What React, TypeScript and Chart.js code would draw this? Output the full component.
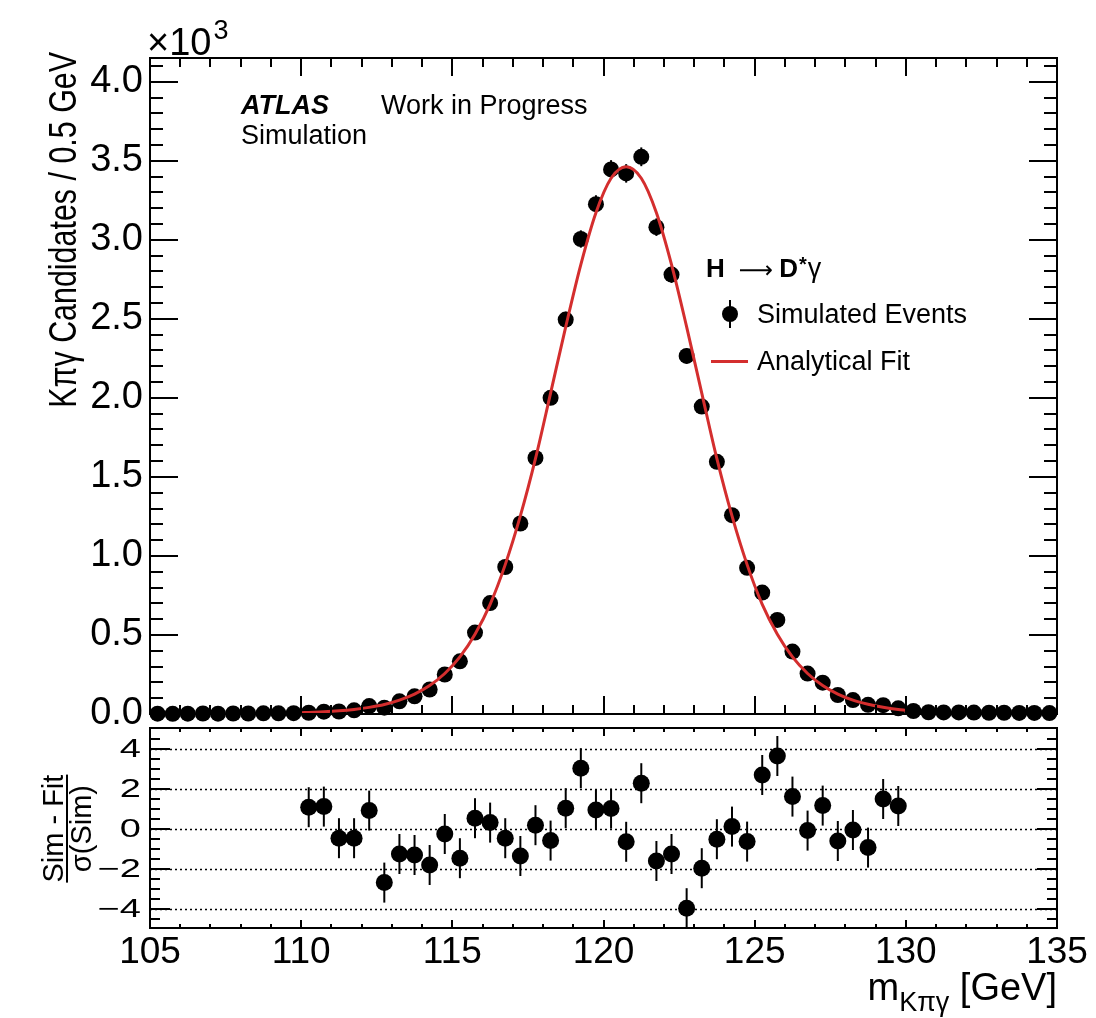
import React, { useEffect, useRef } from 'react';
import { Chart, registerables } from 'chart.js';

Chart.register(...registerables);

// ---------------- data ----------------
const binCenters = [
  105.25, 105.75, 106.25, 106.75, 107.25, 107.75, 108.25, 108.75, 109.25, 109.75,
  110.25, 110.75, 111.25, 111.75, 112.25, 112.75, 113.25, 113.75, 114.25, 114.75,
  115.25, 115.75, 116.25, 116.75, 117.25, 117.75, 118.25, 118.75, 119.25, 119.75,
  120.25, 120.75, 121.25, 121.75, 122.25, 122.75, 123.25, 123.75, 124.25, 124.75,
  125.25, 125.75, 126.25, 126.75, 127.25, 127.75, 128.25, 128.75, 129.25, 129.75,
  130.25, 130.75, 131.25, 131.75, 132.25, 132.75, 133.25, 133.75, 134.25, 134.75,
];

// simulated events (x10^3 candidates / 0.5 GeV)
const simValues = [
  0.002, 0.001, 0.002, 0.003, 0.002, 0.003, 0.003, 0.004, 0.004, 0.005,
  0.008, 0.015, 0.016, 0.023, 0.050, 0.040, 0.080, 0.112, 0.155, 0.250,
  0.333, 0.515, 0.702, 0.930, 1.205, 1.620, 2.000, 2.495, 3.005, 3.225,
  3.445, 3.420, 3.525, 3.080, 2.780, 2.265, 1.945, 1.595, 1.258, 0.925,
  0.768, 0.595, 0.395, 0.256, 0.198, 0.120, 0.088, 0.058, 0.056, 0.036,
  0.019, 0.011, 0.010, 0.010, 0.009, 0.008, 0.008, 0.007, 0.007, 0.006,
];

// analytical fit curve (x10^3), fit range 110-130 GeV
const fitMasses = [
  110.0, 110.25, 110.75, 111.25, 111.75, 112.25, 112.75, 113.25, 113.75, 114.25, 114.75,
  115.25, 115.75, 116.25, 116.75, 117.25, 117.75, 118.25, 118.75, 119.25, 119.75,
  120.25, 120.75, 121.25, 121.75, 122.25, 122.75, 123.25, 123.75, 124.25, 124.75,
  125.25, 125.75, 126.25, 126.75, 127.25, 127.75, 128.25, 128.75, 129.25, 129.75, 130.0,
];
const fitValues = [
  0.008, 0.010, 0.014, 0.020, 0.029, 0.042, 0.060, 0.088, 0.126, 0.180, 0.256,
  0.361, 0.505, 0.694, 0.945, 1.253, 1.615, 2.030, 2.449, 2.843, 3.171,
  3.389, 3.462, 3.389, 3.171, 2.843, 2.449, 2.030, 1.615, 1.253, 0.945,
  0.694, 0.505, 0.361, 0.256, 0.180, 0.126, 0.088, 0.062, 0.043, 0.029, 0.024,
];

// pulls (Sim - Fit)/sigma(Sim) for bins 110.25 ... 129.75
const pullMasses = binCenters.slice(10, 50);
const pullValues = [
  1.07, 1.10, -0.48, -0.48, 0.90, -2.70, -1.27, -1.32, -1.82, -0.27,
  -1.48, 0.52, 0.30, -0.48, -1.37, 0.17, -0.60, 1.02, 3.02, 0.93,
  1.00, -0.66, 2.27, -1.62, -1.27, -3.98, -1.98, -0.53, 0.10, -0.65,
  2.68, 3.63, 1.60, -0.10, 1.15, -0.62, -0.07, -0.95, 1.48, 1.13,
];
const pullErrors = [
  1, 1, 1, 1, 1, 1, 1, 1, 1, 1, 1, 1, 1, 1, 1, 1, 1, 1, 1, 1,
  1, 1, 1, 1, 1, 1, 1, 1, 1, 1, 1, 1, 1, 1, 1, 1, 1, 1, 1, 1,
];

const xTicks = [105, 110, 115, 120, 125, 130, 135];
const mainYTicks = [0, 0.5, 1.0, 1.5, 2.0, 2.5, 3.0, 3.5, 4.0];
const ratioYTicks = [-4, -2, 0, 2, 4];

// ---------------- style ----------------
const FONT = "'Liberation Sans', Arial, Helvetica, sans-serif";
const RED = '#d42e2e';
const W = 1096;
const H = 1018;

function drawInnerTicks(ctx: any, area: any, xs: any, ys: any, o: any) {
  ctx.save();
  ctx.strokeStyle = '#000';
  ctx.lineWidth = 2;
  ctx.beginPath();
  for (let v = 105; v <= 135; v++) {
    const L = v % 5 === 0 ? o.xMaj : o.xMin;
    const px = Math.round(xs.getPixelForValue(v));
    ctx.moveTo(px, area.bottom);
    ctx.lineTo(px, area.bottom - L);
    ctx.moveTo(px, area.top);
    ctx.lineTo(px, area.top + L);
  }
  for (let i = o.yFrom; i <= o.yTo; i++) {
    const v = i * o.yStep;
    const L = i % o.yMajorEvery === 0 ? o.yMaj : o.yMin;
    const py = Math.round(ys.getPixelForValue(v));
    ctx.moveTo(area.left, py);
    ctx.lineTo(area.left + L, py);
    ctx.moveTo(area.right, py);
    ctx.lineTo(area.right - L, py);
  }
  ctx.stroke();
  ctx.strokeRect(area.left, area.top, area.right - area.left, area.bottom - area.top);
  ctx.restore();
}

const mainDecor = {
  id: 'mainDecor',
  beforeDatasetsDraw(chart: any) {
    const { ctx, scales } = chart;
    const xs = scales.x;
    const ys = scales.y;
    ctx.save();
    ctx.strokeStyle = '#000';
    ctx.lineWidth = 2;
    simValues.forEach((v, i) => {
      const e = Math.sqrt(v * 1000) / 1000; // Poisson error
      const px = xs.getPixelForValue(binCenters[i]);
      ctx.beginPath();
      ctx.moveTo(px, ys.getPixelForValue(v - e));
      ctx.lineTo(px, ys.getPixelForValue(v + e));
      ctx.stroke();
    });
    ctx.restore();
  },
  afterDraw(chart: any) {
    const { ctx, chartArea, scales } = chart;
    drawInnerTicks(ctx, chartArea, scales.x, scales.y, {
      xMaj: 18, xMin: 9, yFrom: 0, yTo: 41, yStep: 0.1, yMajorEvery: 5, yMaj: 28, yMin: 13,
    });
    ctx.save();
    ctx.fillStyle = '#000';
    ctx.textBaseline = 'alphabetic';
    ctx.textAlign = 'left';
    // x10^3
    ctx.font = `38px ${FONT}`;
    ctx.fillText('\u00d710', 147, 55);
    const w10 = ctx.measureText('\u00d710').width;
    ctx.font = `27px ${FONT}`;
    ctx.fillText('3', 147 + w10 + 2, 39);
    // ATLAS label
    ctx.font = `italic bold 27px ${FONT}`;
    ctx.fillText('ATLAS', 241, 114);
    ctx.font = `27px ${FONT}`;
    ctx.fillText('Work in Progress', 381, 114);
    ctx.fillText('Simulation', 241, 144);
    // legend header
    let xx = 706;
    ctx.font = `bold 26px ${FONT}`;
    ctx.fillText('H', xx, 277);
    xx += ctx.measureText('H').width + 14;
    ctx.font = `24px 'DejaVu Sans', ${FONT}`;
    const arrow = '\u27f6';
    ctx.fillText(arrow, xx, 278);
    xx += ctx.measureText(arrow).width + 6;
    ctx.font = `bold 26px ${FONT}`;
    ctx.fillText('D', xx, 277);
    xx += ctx.measureText('D').width + 1;
    ctx.font = `bold 20px ${FONT}`;
    ctx.fillText('*', xx, 271);
    xx += ctx.measureText('*').width + 1;
    ctx.font = `27px ${FONT}`;
    ctx.fillText('\u03b3', xx, 277);
    // legend entries
    ctx.strokeStyle = '#000';
    ctx.lineWidth = 2;
    ctx.beginPath();
    ctx.moveTo(730, 300);
    ctx.lineTo(730, 328);
    ctx.stroke();
    ctx.beginPath();
    ctx.arc(730, 314, 8, 0, Math.PI * 2);
    ctx.fill();
    ctx.font = `27px ${FONT}`;
    ctx.fillText('Simulated Events', 757, 323);
    ctx.strokeStyle = RED;
    ctx.lineWidth = 3;
    ctx.beginPath();
    ctx.moveTo(711, 361.5);
    ctx.lineTo(748, 361.5);
    ctx.stroke();
    ctx.fillText('Analytical Fit', 757, 370);
    // y title
    ctx.translate(76, 52);
    ctx.rotate(-Math.PI / 2);
    ctx.scale(0.78, 1);
    ctx.textAlign = 'right';
    ctx.font = `39px ${FONT}`;
    ctx.fillText('K\u03c0\u03b3 Candidates / 0.5 GeV', 0, 0);
    ctx.restore();
  },
};

const ratioDecor = {
  id: 'ratioDecor',
  beforeDatasetsDraw(chart: any) {
    const { ctx, chartArea, scales } = chart;
    const xs = scales.x;
    const ys = scales.y;
    ctx.save();
    ctx.strokeStyle = '#000';
    ctx.lineWidth = 1.5;
    ctx.setLineDash([2, 3]);
    ratioYTicks.forEach((t) => {
      const py = Math.round(ys.getPixelForValue(t)) + 0.5;
      ctx.beginPath();
      ctx.moveTo(chartArea.left, py);
      ctx.lineTo(chartArea.right, py);
      ctx.stroke();
    });
    ctx.setLineDash([]);
    ctx.lineWidth = 2;
    pullValues.forEach((v, i) => {
      const px = xs.getPixelForValue(pullMasses[i]);
      const e = pullErrors[i];
      ctx.beginPath();
      ctx.moveTo(px, ys.getPixelForValue(v - e));
      ctx.lineTo(px, ys.getPixelForValue(v + e));
      ctx.stroke();
    });
    ctx.restore();
  },
  afterDraw(chart: any) {
    const { ctx, chartArea, scales } = chart;
    const ys = scales.y;
    drawInnerTicks(ctx, chartArea, scales.x, ys, {
      xMaj: 8, xMin: 4, yFrom: -9, yTo: 9, yStep: 0.5, yMajorEvery: 4, yMaj: 20, yMin: 10,
    });
    ctx.save();
    ctx.fillStyle = '#000';
    // squashed y labels of the ratio pad
    ctx.font = `38px ${FONT}`;
    ctx.textAlign = 'right';
    ctx.textBaseline = 'middle';
    ratioYTicks.forEach((t) => {
      const py = ys.getPixelForValue(t);
      ctx.save();
      ctx.translate(141, py + 1);
      ctx.scale(1, 0.66);
      ctx.fillText(t < 0 ? '\u2212' + String(-t) : String(t), 0, 0);
      ctx.restore();
    });
    // y title: fraction
    const cy = ys.getPixelForValue(0);
    ctx.save();
    ctx.textBaseline = 'alphabetic';
    ctx.textAlign = 'center';
    ctx.translate(0, cy);
    ctx.rotate(-Math.PI / 2);
    ctx.font = `29px ${FONT}`;
    ctx.fillText('Sim - Fit', 0, 63);
    ctx.fillText('\u03c3(Sim)', 0, 91);
    ctx.fillRect(-54, 66, 108, 2);
    ctx.restore();
    // x title
    ctx.textAlign = 'left';
    ctx.textBaseline = 'alphabetic';
    ctx.font = `38px ${FONT}`;
    const wm = ctx.measureText('m').width;
    const wg = ctx.measureText(' [GeV]').width;
    ctx.font = `27px ${FONT}`;
    const ws = ctx.measureText('K\u03c0\u03b3').width;
    const start = chartArea.right - (wm + ws + wg);
    ctx.font = `38px ${FONT}`;
    ctx.fillText('m', start, 1000);
    ctx.fillText(' [GeV]', start + wm + ws, 1000);
    ctx.font = `27px ${FONT}`;
    ctx.fillText('K\u03c0\u03b3', start + wm, 1011);
    ctx.restore();
  },
};

export default function App() {
  const mainRef = useRef<HTMLCanvasElement | null>(null);
  const ratioRef = useRef<HTMLCanvasElement | null>(null);

  useEffect(() => {
    Chart.defaults.font.family = FONT;
    Chart.defaults.color = '#000';

    const main = new Chart(mainRef.current as HTMLCanvasElement, {
      type: 'line',
      data: {
        datasets: [
          {
            label: 'Analytical Fit',
            data: fitMasses.map((m, i) => ({ x: m, y: fitValues[i] })),
            borderColor: RED,
            borderWidth: 3,
            pointRadius: 0,
            cubicInterpolationMode: 'monotone',
            fill: false,
            order: 0,
          },
          {
            label: 'Simulated Events',
            data: binCenters.map((m, i) => ({ x: m, y: simValues[i] })),
            showLine: false,
            pointRadius: 8,
            pointBackgroundColor: '#000',
            pointBorderColor: '#000',
            pointBorderWidth: 0,
            clip: false,
            order: 1,
          },
        ],
      } as any,
      options: {
        responsive: false,
        animation: false,
        events: [],
        layout: { padding: { top: 58, right: 39, bottom: 304, left: 0 } },
        plugins: { legend: { display: false }, tooltip: { enabled: false } },
        scales: {
          x: { type: 'linear', min: 105, max: 135, display: false },
          y: {
            type: 'linear',
            min: 0,
            max: 4.15,
            afterFit: (s: any) => { s.width = 150; },
            afterBuildTicks: (s: any) => { s.ticks = mainYTicks.map((v) => ({ value: v })); },
            ticks: {
              callback: (v: any) => Number(v).toFixed(1),
              font: { size: 38, family: FONT },
              color: '#000',
              padding: 7,
              autoSkip: false,
            },
            grid: { display: false, drawTicks: false },
            border: { display: false },
          },
        },
      } as any,
      plugins: [mainDecor],
    });

    const ratio = new Chart(ratioRef.current as HTMLCanvasElement, {
      type: 'line',
      data: {
        datasets: [
          {
            label: 'Pull',
            data: pullMasses.map((m, i) => ({ x: m, y: pullValues[i] })),
            showLine: false,
            pointRadius: 8.5,
            pointBackgroundColor: '#000',
            pointBorderColor: '#000',
            pointBorderWidth: 0,
          },
        ],
      } as any,
      options: {
        responsive: false,
        animation: false,
        events: [],
        layout: { padding: { top: 728, right: 39, bottom: 0, left: 150 } },
        plugins: { legend: { display: false }, tooltip: { enabled: false } },
        scales: {
          x: {
            type: 'linear',
            min: 105,
            max: 135,
            position: 'bottom',
            afterFit: (s: any) => { s.height = 90; },
            afterBuildTicks: (s: any) => { s.ticks = xTicks.map((v) => ({ value: v })); },
            ticks: {
              callback: (v: any) => String(v),
              font: { size: 37, family: FONT },
              color: '#000',
              padding: 3,
              maxRotation: 0,
              autoSkip: false,
            },
            grid: { display: false, drawTicks: false },
            border: { display: false },
          },
          y: { type: 'linear', min: -4.97, max: 5.03, display: false },
        },
      } as any,
      plugins: [ratioDecor],
    });

    return () => {
      main.destroy();
      ratio.destroy();
    };
  }, []);

  return (
    <div style={{ position: 'absolute', left: 0, top: 0, width: W, height: H, background: '#fff' }}>
      <canvas ref={mainRef} width={W} height={H} style={{ position: 'absolute', left: 0, top: 0 }} />
      <canvas ref={ratioRef} width={W} height={H} style={{ position: 'absolute', left: 0, top: 0 }} />
    </div>
  );
}
